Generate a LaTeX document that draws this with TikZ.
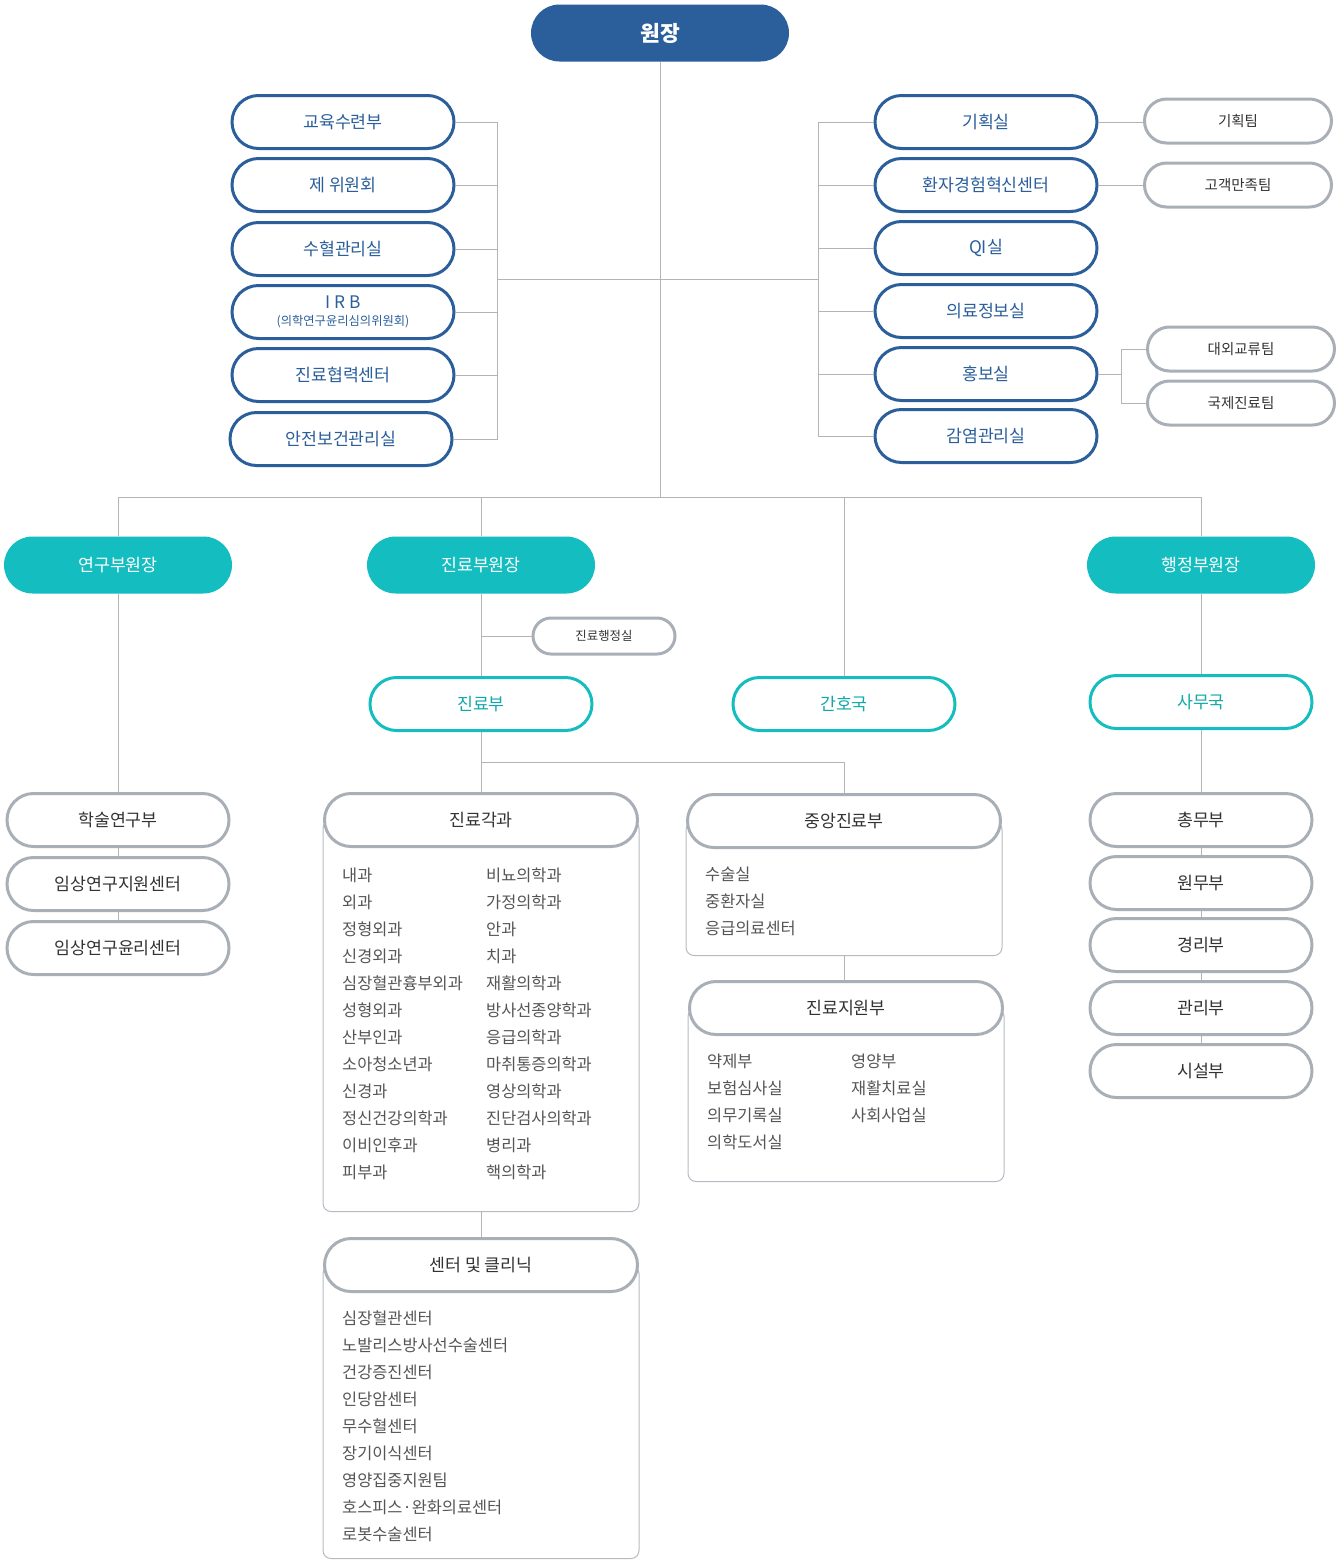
\documentclass[tikz,border=0pt]{standalone}
\usepackage{fontspec}
\setmainfont{Noto Sans CJK KR}
\usetikzlibrary{shapes.misc}
\definecolor{hosblue}{HTML}{2B5F9B}
\definecolor{hosteal}{HTML}{14BDC0}
\definecolor{tealtext}{HTML}{12A8AB}
\definecolor{hosgray}{HTML}{A9AFB7}
\definecolor{linegray}{HTML}{B4B4B4}
\definecolor{txtgray}{HTML}{333333}
\definecolor{listgray}{HTML}{555555}

\begin{document}
\begin{tikzpicture}
[
x=1pt,y=-1pt,
box/.style={rounded rectangle,minimum width=222pt,minimum height=53pt,inner sep=0pt,fill=white,
            font=\fontsize{17.3}{17.3}\selectfont},
chief/.style={box,fill=hosblue,text=white,minimum width=258pt,minimum height=57pt,
            font=\fontsize{21.5}{21.5}\selectfont\bfseries},
office/.style={box,draw=hosblue,line width=3pt,text=hosblue},
vice/.style={box,fill=hosteal,text=white,minimum width=228pt,minimum height=57pt},
unit/.style={box,draw=hosteal,line width=3pt,text=tealtext},
dept/.style={box,draw=hosgray,line width=3pt,text=txtgray},
team/.style={box,draw=hosgray,line width=3pt,text=txtgray,minimum width=187pt,minimum height=44pt,
            font=\fontsize{14.5}{14.5}\selectfont},
paneltitle/.style={dept,minimum width=313pt},
panel/.style={draw=hosgray!85,line width=1pt,rounded corners=8pt,minimum width=316pt,inner sep=0pt,anchor=north},
items/.style={align=left,anchor=north west,inner sep=0pt,text=listgray,font=\fontsize{16.4}{27}\selectfont},
conn/.style={draw=linegray,line width=1pt},
]
\useasboundingbox[fill=white] (0,0) rectangle (1340,1567);

%Place the nodes
\node[chief] (dir) at (660,33) {원장};

\node[office] (l1) at (343,122) {교육수련부};
\node[office] (l2) at (343,185) {제 위원회};
\node[office] (l3) at (343,249) {수혈관리실};
\node[office,align=center] (l4) at (343,312) {\fontsize{17.3}{17.3}\selectfont I R B\\[0pt]\fontsize{12.3}{12.3}\selectfont (의학연구윤리심의위원회)};
\node[office] (l5) at (343,375) {진료협력센터};
\node[office] (l6) at (341,439) {안전보건관리실};

\node[office] (r1) at (986,122) {기획실};
\node[office] (r2) at (986,185) {환자경험혁신센터};
\node[office] (r3) at (986,248) {QI실};
\node[office] (r4) at (986,311) {의료정보실};
\node[office] (r5) at (986,374) {홍보실};
\node[office] (r6) at (986,436) {감염관리실};

\node[team] (t1) at (1238,121) {기획팀};
\node[team] (t2) at (1238,185) {고객만족팀};
\node[team] (t3) at (1241,349) {대외교류팀};
\node[team] (t4) at (1241,403) {국제진료팀};

\node[vice] (vp1) at (118,565) {연구부원장};
\node[vice] (vp2) at (481,565) {진료부원장};
\node[vice] (vp3) at (1201,565) {행정부원장};

\node[team,minimum width=142pt,minimum height=36pt,font=\fontsize{12.4}{12.4}\selectfont] (medoff) at (604,636) {진료행정실};

\node[unit] (med) at (481,704) {진료부};
\node[unit] (nur) at (844,704) {간호국};
\node[unit] (adm) at (1201,702) {사무국};

\node[dept] (res1) at (118,820) {학술연구부};
\node[dept] (res2) at (118,884) {임상연구지원센터};
\node[dept] (res3) at (118,948) {임상연구윤리센터};

\node[dept] (g1) at (1201,820) {총무부};
\node[dept] (g2) at (1201,883) {원무부};
\node[dept] (g3) at (1201,945) {경리부};
\node[dept] (g4) at (1201,1008) {관리부};
\node[dept] (g5) at (1201,1071) {시설부};

%Panels with their lists
\node[panel,minimum height=391pt] (deptbody) at (481,820) {};
\node[paneltitle] (depthead) at (481,820) {진료각과};
\node[items] (deptl) at (342,868) {내과\\외과\\정형외과\\신경외과\\심장혈관흉부외과\\성형외과\\산부인과\\소아청소년과\\신경과\\정신건강의학과\\이비인후과\\피부과};
\node[items] (deptr) at (486,868) {비뇨의학과\\가정의학과\\안과\\치과\\재활의학과\\방사선종양학과\\응급의학과\\마취통증의학과\\영상의학과\\진단검사의학과\\병리과\\핵의학과};

\node[panel,minimum height=134pt] (centbody) at (844,821) {};
\node[paneltitle] (centhead) at (844,821) {중앙진료부};
\node[items] (centl) at (705,867) {수술실\\중환자실\\응급의료센터};

\node[panel,minimum height=173pt] (suppbody) at (846,1008) {};
\node[paneltitle] (supphead) at (846,1008) {진료지원부};
\node[items] (suppl) at (707,1054) {약제부\\보험심사실\\의무기록실\\의학도서실};
\node[items] (suppr) at (851,1054) {영양부\\재활치료실\\사회사업실};

\node[panel,minimum height=293pt] (clinbody) at (481,1265) {};
\node[paneltitle] (clinhead) at (481,1265) {센터 및 클리닉};
\node[items] (clinl) at (342,1311) {심장혈관센터\\노발리스방사선수술센터\\건강증진센터\\인당암센터\\무수혈센터\\장기이식센터\\영양집중지원팀\\호스피스·완화의료센터\\로봇수술센터};

%Draw the connections
\coordinate (lj) at (497,279);
\coordinate (rj) at (818,279);
\coordinate (hub) at (660,497);
\coordinate (pj) at (1121,374);
\coordinate (mj) at (481,762);
\draw[conn] (dir.south) -- (hub);
\draw[conn] (lj) -- (rj);
\draw[conn] (l1.east) -| (lj);
\draw[conn] (l2.east) -| (lj);
\draw[conn] (l3.east) -| (lj);
\draw[conn] (l4.east) -| (lj);
\draw[conn] (l5.east) -| (lj);
\draw[conn] (l6.east) -| (lj);
\draw[conn] (r1.west) -| (rj);
\draw[conn] (r2.west) -| (rj);
\draw[conn] (r3.west) -| (rj);
\draw[conn] (r4.west) -| (rj);
\draw[conn] (r5.west) -| (rj);
\draw[conn] (r6.west) -| (rj);
\draw[conn] (r1.east) -- (r1.east -| t1.west);
\draw[conn] (r2.east) -- (r2.east -| t2.west);
\draw[conn] (r5.east) -- (pj);
\draw[conn] (t3.west) -| (pj);
\draw[conn] (t4.west) -| (pj);
\draw[conn] (vp1.north) |- (hub);
\draw[conn] (vp2.north) |- (hub);
\draw[conn] (nur.north) |- (hub);
\draw[conn] (vp3.north) |- (hub);
\draw[conn] (vp1.south) -- (res1.north);
\draw[conn] (res1.south) -- (res2.north);
\draw[conn] (res2.south) -- (res3.north);
\draw[conn] (vp2.south) -- (med.north);
\draw[conn] (medoff.west) -- (medoff.west -| vp2.south);
\draw[conn] (med.south) -- (depthead.north);
\draw[conn] (mj) -| (centhead.north);
\draw[conn] (deptbody.south) -- (clinhead.north);
\draw[conn] (centbody.south) -- (centbody.south |- supphead.north);
\draw[conn] (vp3.south) -- (adm.north);
\draw[conn] (adm.south) -- (g1.north);
\draw[conn] (g1.south) -- (g2.north);
\draw[conn] (g2.south) -- (g3.north);
\draw[conn] (g3.south) -- (g4.north);
\draw[conn] (g4.south) -- (g5.north);
\end{tikzpicture}
\end{document}
